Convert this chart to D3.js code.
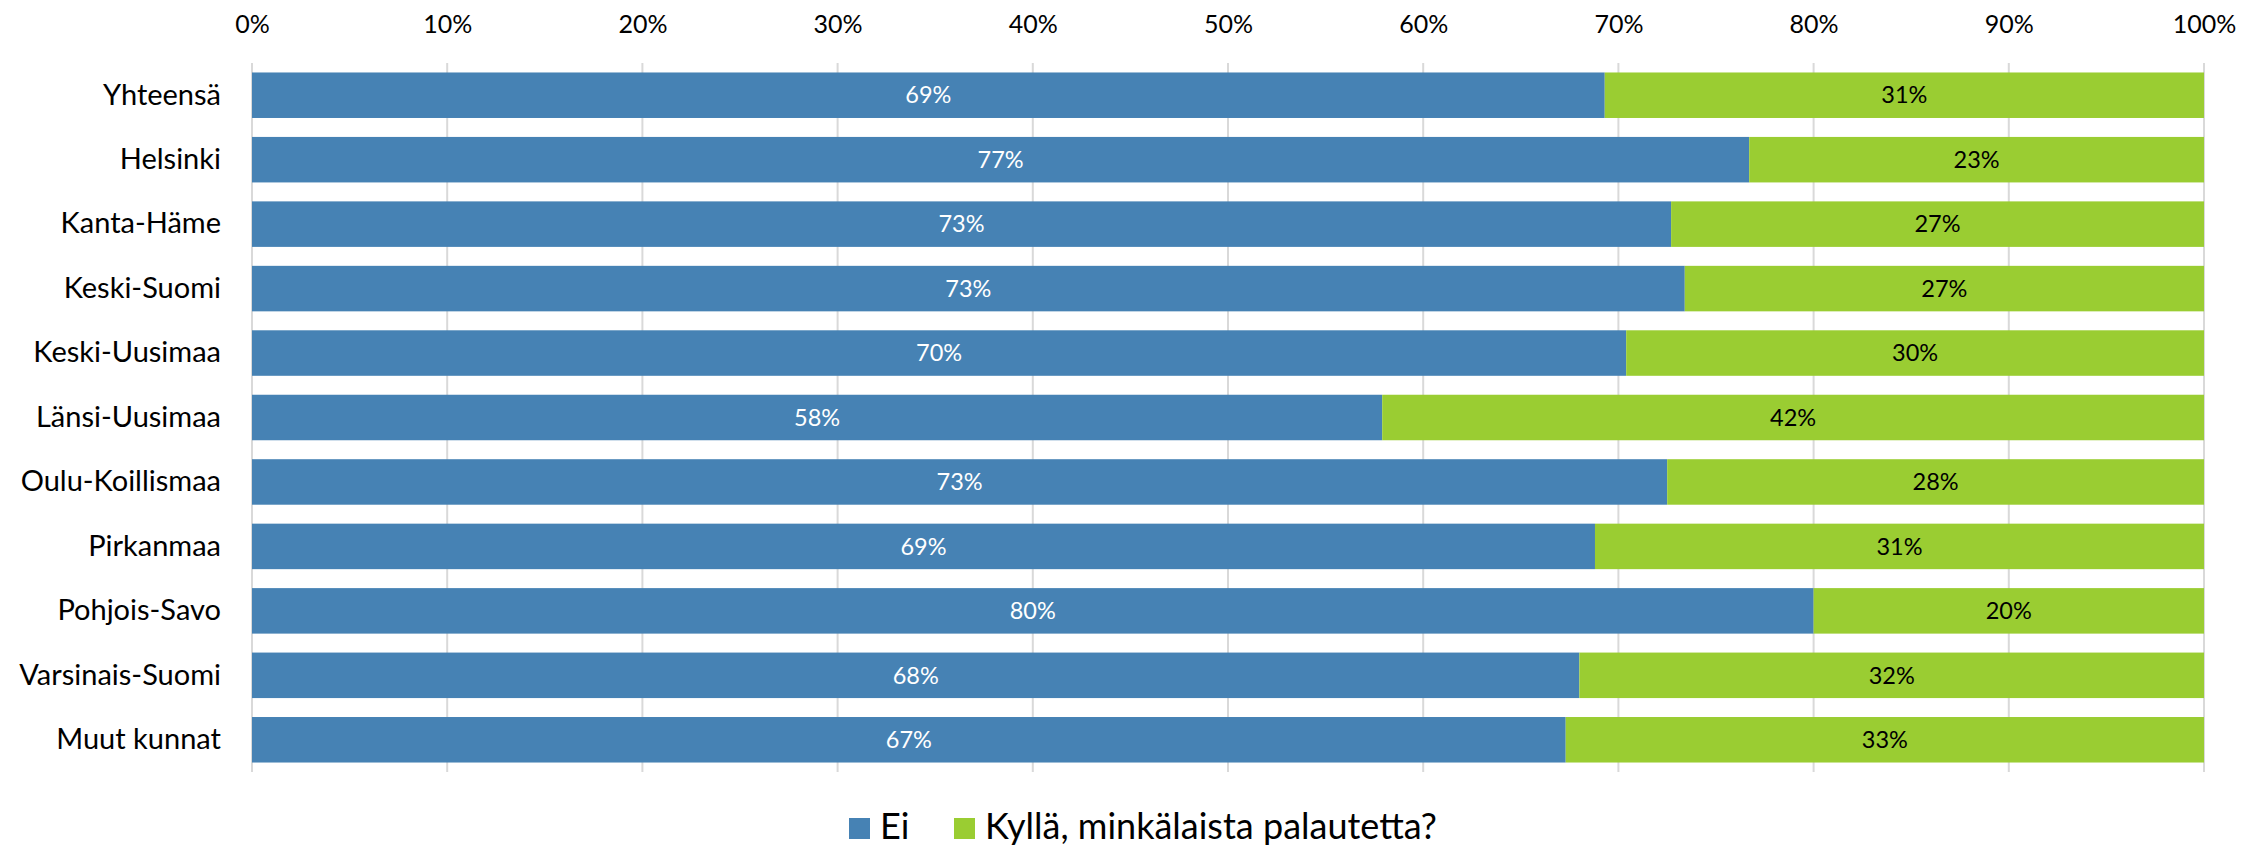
<!DOCTYPE html>
<html>
<head>
<meta charset="utf-8">
<script src="https://cdn.jsdelivr.net/npm/d3@7"></script>
<style>
  html, body { margin: 0; padding: 0; background: #fff; }
  svg { display: block; font-family: Lato, "Open Sans", sans-serif; }
</style>
</head>
<body>
<svg id="chart" width="2262" height="848"></svg>
<script>
// ---- data ----
const categories = ["Yhteensä", "Helsinki", "Kanta-Häme", "Keski-Suomi", "Keski-Uusimaa",
  "Länsi-Uusimaa", "Oulu-Koillismaa", "Pirkanmaa", "Pohjois-Savo", "Varsinais-Suomi", "Muut kunnat"];
const eiValues    = [69.3, 76.7, 72.7, 73.4, 70.4, 57.9, 72.5, 68.8, 80.0, 68.0, 67.3];
const kyllaValues = [30.7, 23.3, 27.3, 26.6, 29.6, 42.1, 27.5, 31.2, 20.0, 32.0, 32.7];
const seriesNames = ["Ei", "Kyllä, minkälaista palautetta?"];
const tickValues  = [0, 10, 20, 30, 40, 50, 60, 70, 80, 90, 100];

// ---- layout ----
const plotLeft = 252, plotRight = 2204, plotTop = 63, plotBottom = 772;
const colors = ["#4682B4", "#9ACD32"];

const svg = d3.select("#chart");

const x = d3.scaleLinear().domain([0, 100]).range([plotLeft, plotRight]);
const y = d3.scaleBand().domain(categories).range([plotTop, plotBottom])
  .paddingInner(0.294).paddingOuter(0.147);

// gridlines
svg.append("g").selectAll("line").data(tickValues).join("line")
  .attr("x1", d => x(d)).attr("x2", d => x(d))
  .attr("y1", plotTop).attr("y2", plotBottom)
  .attr("stroke", "#d9d9d9").attr("stroke-width", 2);

// top axis
const xAxis = svg.append("g").attr("transform", `translate(0,${plotTop})`)
  .call(d3.axisTop(x).tickValues(tickValues).tickFormat(d => d + "%").tickSize(0).tickPadding(30));
xAxis.select(".domain").remove();
xAxis.selectAll("text").attr("font-family", "Lato").attr("font-size", 25).attr("fill", "#000");

// left axis
const yAxis = svg.append("g").attr("transform", `translate(${plotLeft},0)`)
  .call(d3.axisLeft(y).tickSize(0).tickPadding(31));
yAxis.select(".domain").remove();
yAxis.selectAll("text").attr("font-family", "Lato").attr("font-size", 29).attr("fill", "#000");

// stacked data
const rows = categories.map((c, i) => ({cat: c, ei: eiValues[i], kylla: kyllaValues[i]}));
const stack = d3.stack().keys(["ei", "kylla"])(rows);

const layers = svg.append("g").selectAll("g").data(stack).join("g")
  .attr("fill", (d, i) => colors[i]);

layers.selectAll("rect").data(d => d).join("rect")
  .attr("x", d => x(d[0]))
  .attr("width", d => x(d[1]) - x(d[0]))
  .attr("y", d => y(d.data.cat))
  .attr("height", y.bandwidth());

// data labels
const labels = svg.append("g");
stack.forEach((layer, li) => {
  labels.selectAll(null).data(layer).join("text")
    .attr("x", d => (x(d[0]) + x(d[1])) / 2)
    .attr("y", d => y(d.data.cat) + y.bandwidth() / 2)
    .attr("dy", "0.35em")
    .attr("text-anchor", "middle")
    .attr("font-family", "Lato")
    .attr("font-size", 23.5)
    .attr("fill", li === 0 ? "#ffffff" : "#000000")
    .text(d => Math.round(d[1] - d[0]) + "%");
});

// legend
const legendX = [849, 954];
const lg = svg.append("g");
seriesNames.forEach((name, i) => {
  lg.append("rect").attr("x", legendX[i]).attr("y", 818).attr("width", 21).attr("height", 21)
    .attr("fill", colors[i]);
  lg.append("text").attr("x", legendX[i] + 31).attr("y", 839)
    .attr("font-family", "Lato").attr("font-size", 36).attr("fill", "#000")
    .text(name);
});
</script>
</body>
</html>
